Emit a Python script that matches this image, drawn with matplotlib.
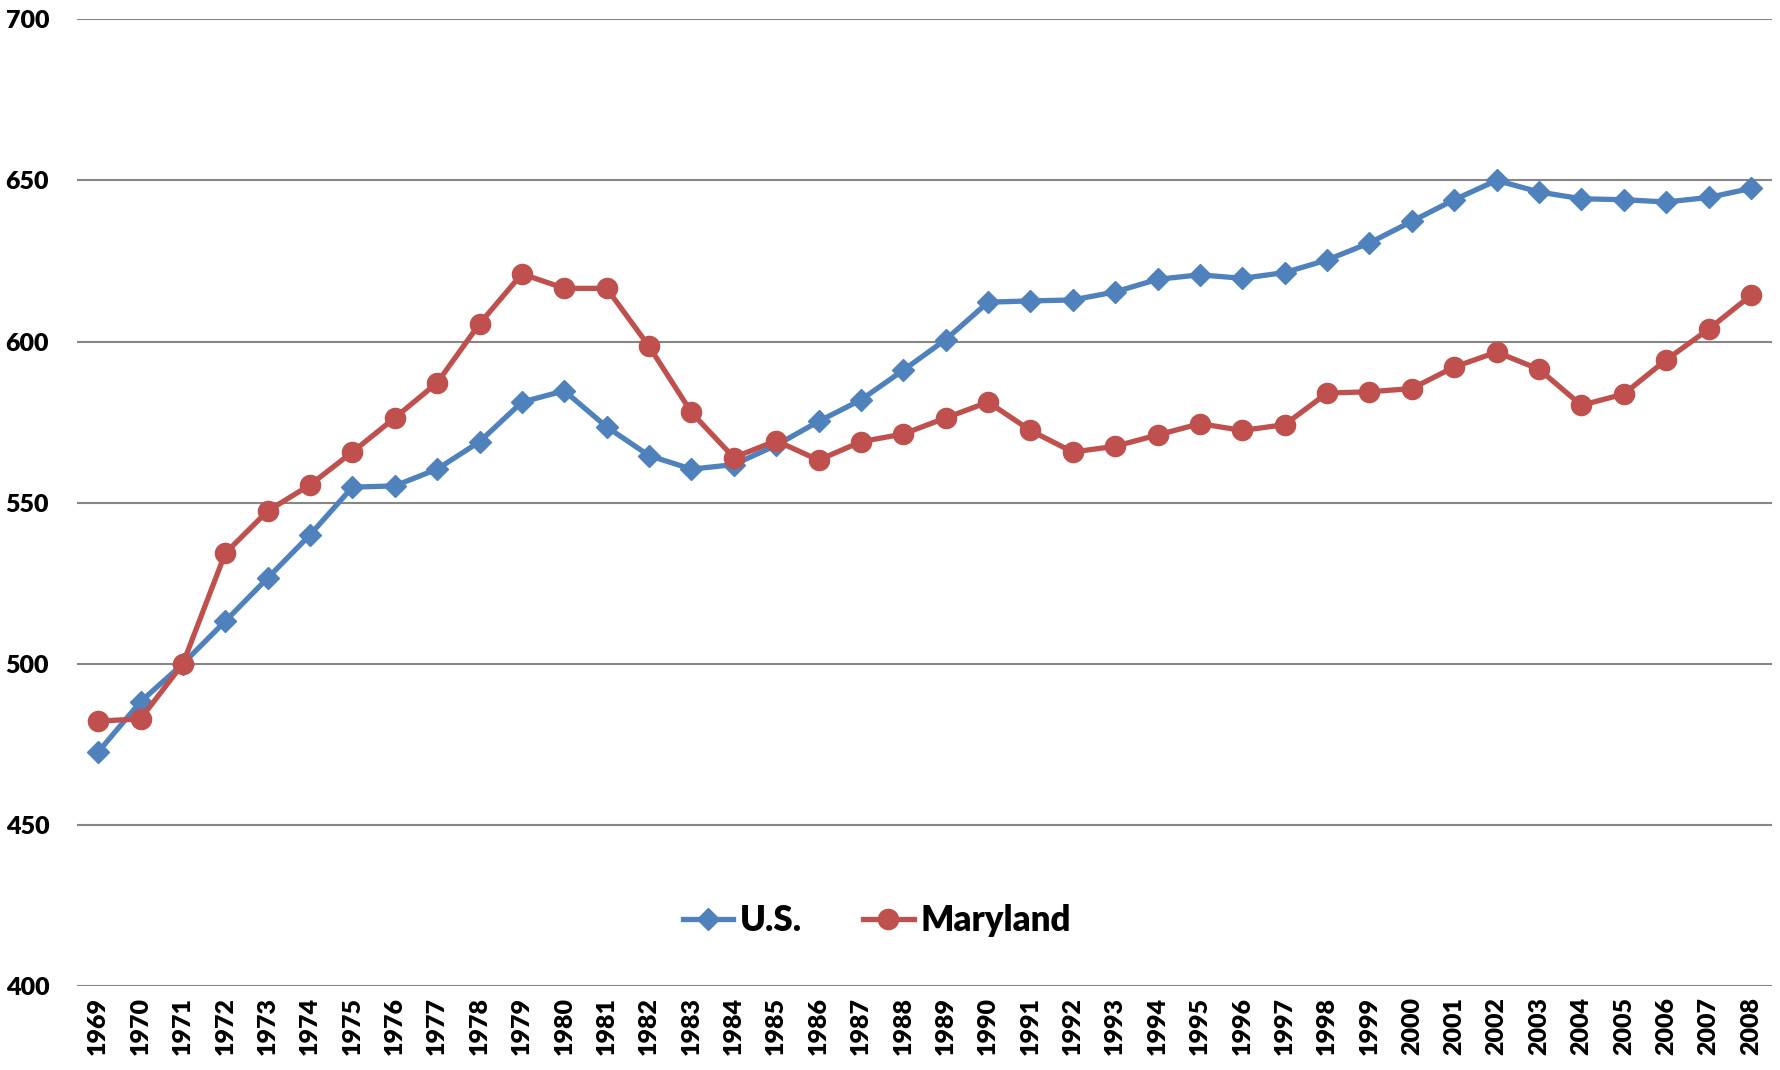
import matplotlib
matplotlib.use("Agg")
import matplotlib.pyplot as plt
from matplotlib.lines import Line2D

years = [str(y) for y in range(1969, 2009)]
us = [472.6, 488.2, 500.0, 513.2, 526.6, 540.0, 554.8, 555.2, 560.4, 568.9,
      581.2, 584.7, 573.5, 564.6, 560.4, 561.8, 567.8, 575.2, 581.9, 591.1,
      600.6, 612.2, 612.6, 612.9, 615.4, 619.3, 620.7, 619.6, 621.4, 625.3,
      630.6, 637.3, 644.0, 650.0, 646.4, 644.3, 644.0, 643.3, 644.7, 647.5]
maryland = [482.2, 482.9, 500.0, 534.3, 547.4, 555.5, 565.7, 576.3, 587.2, 605.5,
            621.0, 616.5, 616.5, 598.5, 578.0, 564.0, 569.2, 563.2, 568.9, 571.3,
            576.3, 581.2, 572.4, 565.7, 567.5, 571.0, 574.5, 572.4, 574.2, 584.0,
            584.4, 585.4, 592.1, 596.7, 591.4, 580.2, 583.7, 594.3, 603.8, 614.3]
yticks = [400, 450, 500, 550, 600, 650, 700]

BLUE = "#4F81BD"
RED = "#C0504D"
FONT = ["Lato", "DejaVu Sans"]

fig = plt.figure(figsize=(17.81, 10.70), dpi=100)
ax = fig.add_axes([0.0432, 0.0785, 0.9518, 0.9035])

x = list(range(len(years)))
ax.plot(x, us, color=BLUE, lw=3.8, marker="D", ms=11, mec=BLUE, mfc=BLUE,
        label="U.S.", zorder=3)
ax.plot(x, maryland, color=RED, lw=3.8, marker="o", ms=14.5, mec=RED, mfc=RED,
        label="Maryland", zorder=4)

ax.set_xlim(-0.5, len(years) - 0.5)
ax.set_ylim(400, 700)
ax.set_yticks(yticks)
ax.set_yticklabels([str(v) for v in yticks], fontsize=18, fontweight="heavy",
                   family=FONT)
ax.set_xticks(x)
ax.set_xticklabels(years, rotation=90, fontsize=18, fontweight="heavy",
                   family=FONT)
ax.tick_params(axis="x", length=0, pad=8)
ax.tick_params(axis="y", length=0, pad=20)
for s in ax.spines.values():
    s.set_visible(False)
ax.grid(axis="y", color="#868686", lw=1.5)
ax.set_axisbelow(True)

handles = [
    Line2D([0], [0], color=BLUE, lw=3.8, marker="D", ms=11),
    Line2D([0], [0], color=RED, lw=3.8, marker="o", ms=14.5),
]
leg = ax.legend(handles, ["U.S.", "Maryland"], loc="center",
                bbox_to_anchor=(0.472, 0.068), ncol=2, frameon=False,
                prop={"family": FONT, "weight": "heavy", "size": 25},
                handlelength=1.45, columnspacing=1.75, handletextpad=0.2)

fig.savefig("out.png", dpi=100)
